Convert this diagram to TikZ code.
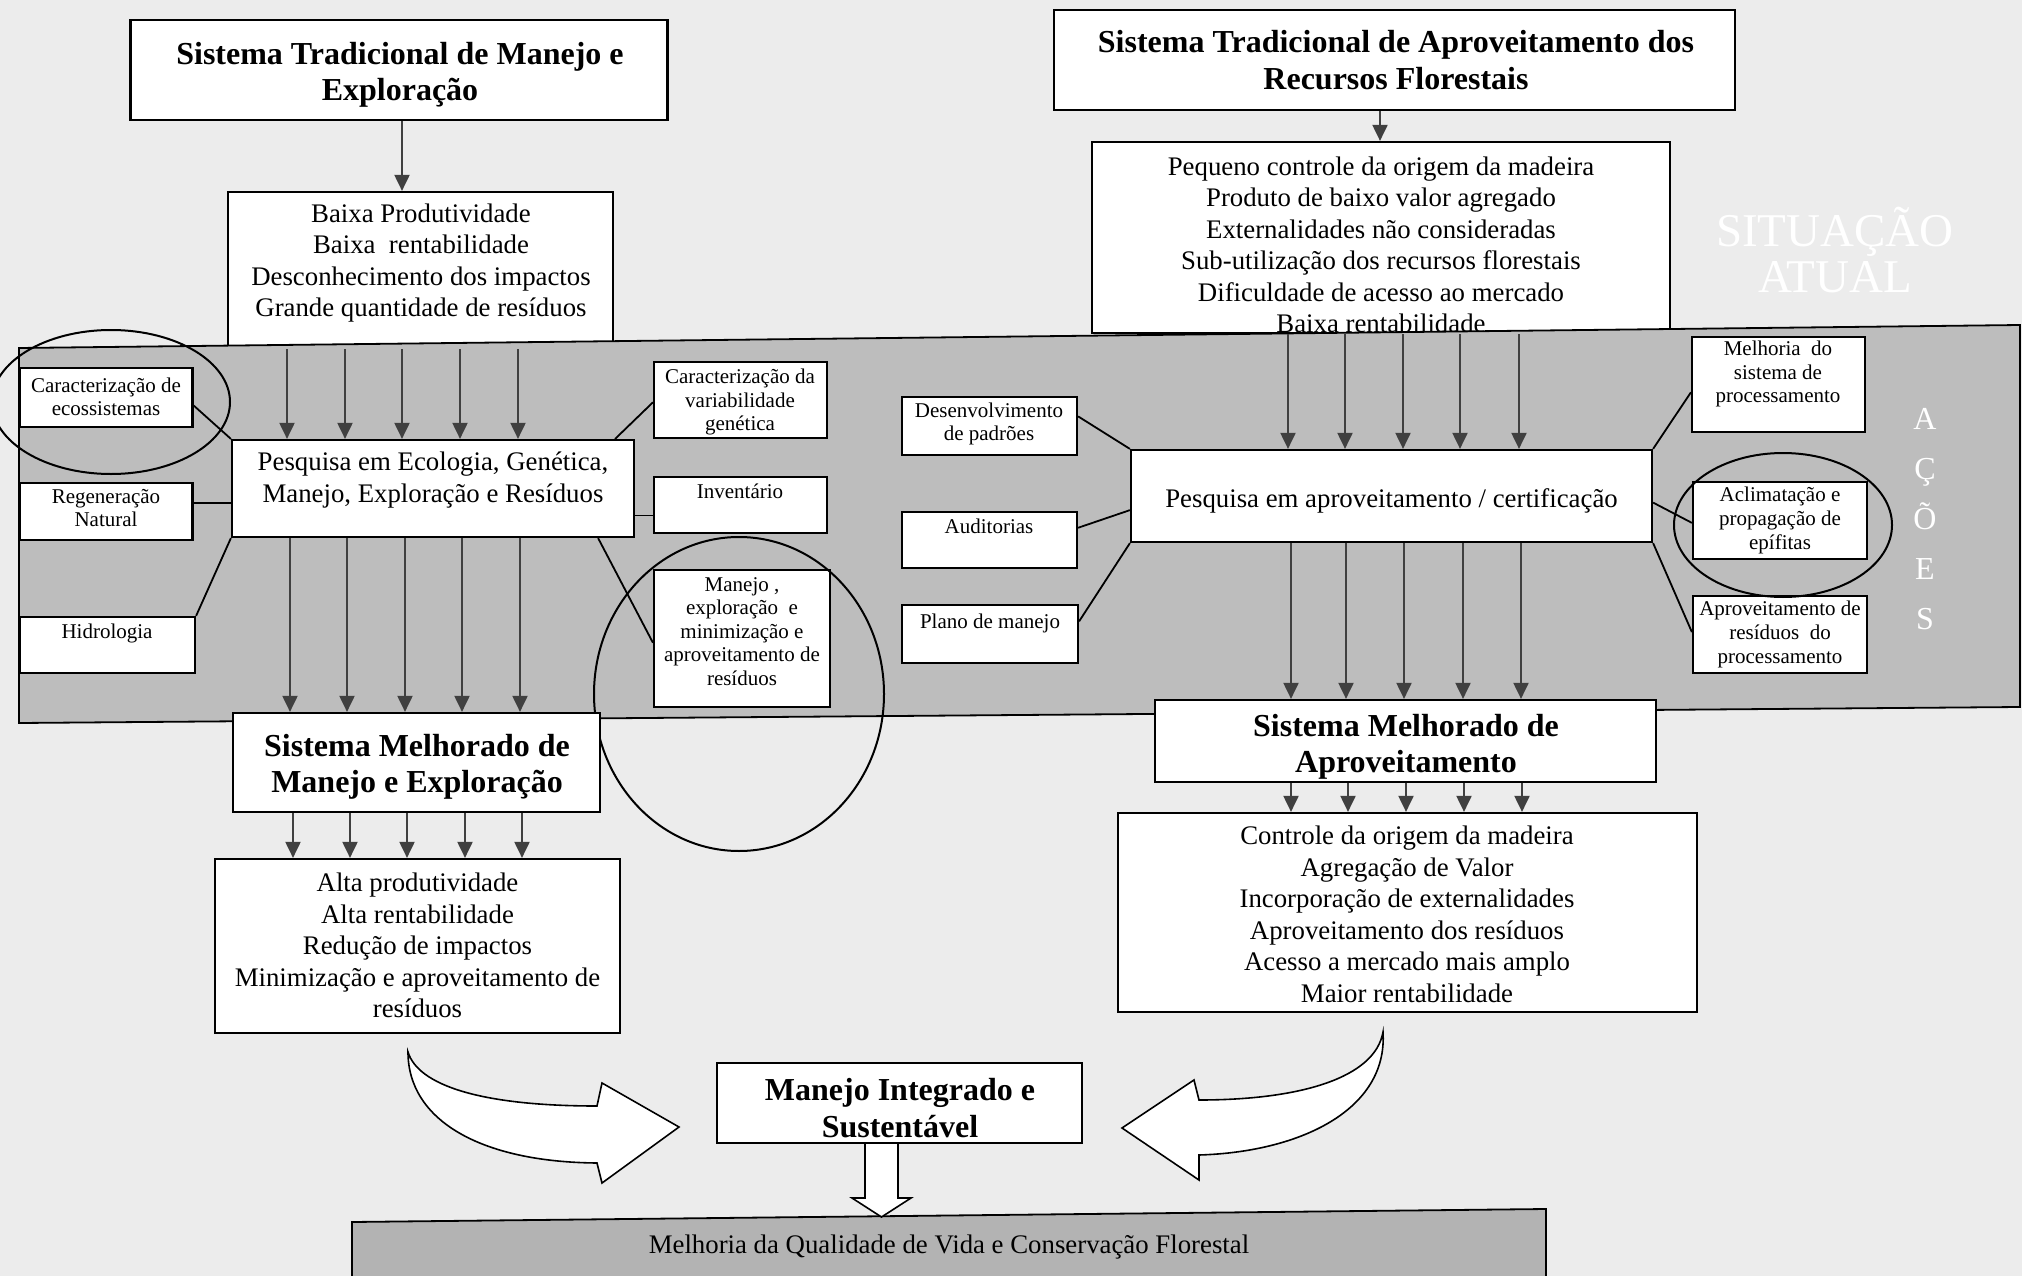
\documentclass[tikz,border=0pt]{standalone}
\usepackage{fontspec}
\setmainfont{Liberation Serif}
\usetikzlibrary{arrows.meta,calc}
\definecolor{paper}{gray}{0.925}
\definecolor{bandgrey}{gray}{0.74}
\definecolor{arrgrey}{gray}{0.25}
\begin{document}
\begin{tikzpicture}[x=1pt,y=-1pt,
  box/.style={draw=black, line width=2.2pt, fill=white, inner sep=0pt},
  txt/.style={align=center, inner sep=0pt, font=\fontsize{26.8}{31.5}\selectfont},
  stxt/.style={align=center, inner sep=0pt, font=\fontsize{21}{23.6}\selectfont},
  btxt/.style={align=center, inner sep=0pt, font=\bfseries\fontsize{32}{36.5}\selectfont},
  arr/.style={draw=arrgrey, line width=2pt, -{Triangle[width=15pt,length=16pt]}},
  link/.style={draw=black, line width=1.8pt},
  ring/.style={draw=black, line width=2pt},
  blockarr/.style={draw=black, line width=1.6pt, fill=white, line join=miter},
  ghost/.style={text=white, align=center, inner sep=0pt},
]
\useasboundingbox (0,0) rectangle (2022,1276);
\fill[paper] (0,0) rectangle (2022,1276);

% ---------- top row ----------
\node[box,minimum width=537pt,minimum height=100pt] (T1) at (399,70) {};
\node[btxt] (T1t) at (400,75) {Sistema Tradicional de Manejo e\\Exploração};
\node[box,minimum width=385pt,minimum height=156pt] (B1) at (420.5,270) {};
\node[txt] (B1t) at (421,263) {Baixa Produtividade\\Baixa~ rentabilidade\\Desconhecimento dos impactos\\Grande quantidade de resíduos};
\draw[arr] (402,0 |- T1.south) -- (402,0 |- B1.north);

\node[box,minimum width=681pt,minimum height=100pt] (T2) at (1394.5,60) {};
\node[btxt] (T2t) at (1396,60) {Sistema Tradicional de Aproveitamento dos\\Recursos Florestais};
\node[box,minimum width=578pt,minimum height=191pt] (B2) at (1381,237.5) {};
\node[txt] (B2t) at (1381,245) {Pequeno controle da origem da madeira\\Produto de baixo valor agregado\\Externalidades não consideradas\\Sub-utilização dos recursos florestais\\Dificuldade de acesso ao mercado\\Baixa rentabilidade};
\draw[arr] (1380,0 |- T2.south) -- (1380,0 |- B2.north);

\node[ghost, font=\fontsize{47}{46}\selectfont] (sit) at (1835,250) {SITUAÇÃO\\ATUAL};

% ---------- band ----------
\draw[line width=1.8pt, fill=bandgrey] (19,348) -- (2020,325) -- (2020,707) -- (19,723) -- cycle;
\node[ghost, font=\fontsize{32}{50}\selectfont] (acoes) at (1925,519) {A\\Ç\\Õ\\E\\S};

% left research block
\node[box,minimum width=402pt,minimum height=97pt] (P1) at (433,488.5) {};
\node[txt] (P1t) at (433,480) {Pesquisa em Ecologia, Genética,\\Manejo, Exploração e Resíduos};

\node[box,minimum width=173pt,minimum height=59pt] (C1) at (106,397.5) {};
\node[stxt] (C1t) at (106,397) {Caracterização de\\ecossistemas};
\node[box,minimum width=173pt,minimum height=57pt] (R1) at (106,511.5) {};
\node[stxt] (R1t) at (106,508) {Regeneração\\Natural};
\node[box,minimum width=175pt,minimum height=56pt] (H1) at (107.5,645) {};
\node[stxt] (H1t) at (107,633) {Hidrologia};

\node[box,minimum width=173pt,minimum height=76pt] (V1) at (740.5,400) {};
\node[stxt] (V1t) at (740,402) {Caracterização da\\variabilidade\\genética};
\node[box,minimum width=173pt,minimum height=56pt] (I1) at (740.5,505) {};
\node[stxt] (I1t) at (740,491) {Inventário};
\node[box,minimum width=176pt,minimum height=137pt] (M1) at (742,638.5) {};
\node[stxt] (M1t) at (742,631.5) {Manejo ,\\exploração~ e\\minimização e\\aproveitamento de\\resíduos};

\draw[ring] (111,402) ellipse [x radius=119pt, y radius=72pt];
\draw[ring] (739,694) ellipse [x radius=145pt, y radius=157pt];

\draw[link] ($(C1.north east)!0.63!(C1.south east)$) -- (P1.north west);
\coordinate (r1e) at ($(R1.north east)!0.35!(R1.south east)$);
\draw[link] (r1e) -- (r1e -| P1.west);
\draw[link] (H1.north east) -- (P1.south west);
\draw[link] ($(P1.north east)+(-20,0)$) -- ($(V1.north west)!0.53!(V1.south west)$);
\coordinate (i1w) at ($(I1.north west)!0.68!(I1.south west)$);
\draw[link] (i1w -| P1.east) -- (i1w);
\draw[link] ($(P1.south east)+(-37,0)$) -- ($(M1.north west)!0.53!(M1.south west)$);

\foreach \x in {287,345,402,460,518}
  \draw[arr] (\x,0 |- B1.south) -- (\x,0 |- P1.north);

% right research block
\node[box,minimum width=521pt,minimum height=92pt] (P2) at (1391.5,496) {};
\node[txt] (P2t) at (1391.5,501) {Pesquisa em aproveitamento / certificação};

\node[box,minimum width=175pt,minimum height=58pt] (D) at (989.5,426) {};
\node[stxt] (Dt) at (989,424) {Desenvolvimento\\de padrões};
\node[box,minimum width=175pt,minimum height=56pt] (Au) at (989.5,540) {};
\node[stxt] (Aut) at (989,526) {Auditorias};
\node[box,minimum width=176pt,minimum height=58pt] (Pl) at (990,634) {};
\node[stxt] (Plt) at (990,623) {Plano de manejo};

\node[box,minimum width=173pt,minimum height=95pt] (Me) at (1778.5,384.5) {};
\node[stxt] (Met) at (1778,374) {Melhoria~ do\\sistema de\\processamento};
\node[box,minimum width=174pt,minimum height=77pt] (Ac) at (1780,520.5) {};
\node[stxt] (Act) at (1780,520.5) {Aclimatação e\\propagação de\\epífitas};
\node[box,minimum width=174pt,minimum height=77pt] (Ap) at (1780,634.5) {};
\node[stxt] (Apt) at (1780,634.5) {Aproveitamento de\\resíduos~ do\\processamento};

\draw[ring] (1783,525) ellipse [x radius=109pt, y radius=72pt];

\draw[link] ($(D.north east)!0.34!(D.south east)$) -- (P2.north west);
\draw[link] ($(Au.north east)!0.29!(Au.south east)$) -- ($(P2.north west)!0.65!(P2.south west)$);
\draw[link] ($(Pl.north east)!0.29!(Pl.south east)$) -- (P2.south west);
\draw[link] (P2.north east) -- ($(Me.north west)!0.58!(Me.south west)$);
\draw[link] ($(P2.north east)!0.57!(P2.south east)$) -- ($(Ac.north west)!0.53!(Ac.south west)$);
\draw[link] (P2.south east) -- ($(Ap.north west)!0.47!(Ap.south west)$);

\foreach \x in {1288,1345,1403,1460,1519}
  \draw[arr] (\x,0 |- B2.south) -- (\x,0 |- P2.north);

% ---------- improved systems ----------
\node[box,minimum width=367pt,minimum height=99pt] (S1) at (416.5,762.5) {};
\node[btxt] (S1t) at (417,767) {Sistema Melhorado de\\Manejo e Exploração};
\foreach \x in {290,347,405,462,520}
  \draw[arr] (\x,0 |- P1.south) -- (\x,0 |- S1.north);

\node[box,minimum width=405pt,minimum height=174pt] (A1) at (417.5,946) {};
\node[txt] (A1t) at (417.5,945.5) {Alta produtividade\\Alta rentabilidade\\Redução de impactos\\Minimização e aproveitamento de\\resíduos};
\foreach \x in {293,350,407,465,522}
  \draw[arr] (\x,0 |- S1.south) -- (\x,0 |- A1.north);

\node[box,minimum width=501pt,minimum height=82pt] (S2) at (1405.5,741) {};
\node[btxt] (S2t) at (1406,747) {Sistema Melhorado de\\Aproveitamento};
\foreach \x in {1291,1346,1404,1463,1521}
  \draw[arr] (\x,0 |- P2.south) -- (\x,0 |- S2.north);

\node[box,minimum width=579pt,minimum height=199pt] (C2) at (1407.5,912.5) {};
\node[txt] (C2t) at (1407,914.5) {Controle da origem da madeira\\Agregação de Valor\\Incorporação de externalidades\\Aproveitamento dos resíduos\\Acesso a mercado mais amplo\\Maior rentabilidade};
\foreach \x in {1291,1348,1406,1464,1522}
  \draw[arr] (\x,0 |- S2.south) -- (\x,0 |- C2.north);

% ---------- integration ----------
\node[box,minimum width=365pt,minimum height=80pt] (MI) at (899.5,1103) {};
\node[btxt] (MIt) at (900,1108) {Manejo Integrado e\\Sustentável};

\draw[blockarr] (408,1052) .. controls (418,1085) and (480,1106) .. (597,1106)
  -- (602,1083) -- (679,1127) -- (602,1183) -- (597,1163)
  .. controls (480,1162) and (408,1120) .. (408,1052) -- cycle;
\draw[blockarr] (1383,1032) .. controls (1375,1078) and (1300,1100) .. (1199,1100)
  -- (1194,1080) -- (1122,1128) -- (1199,1180) -- (1199,1155)
  .. controls (1300,1152) and (1388,1110) .. (1383,1032) -- cycle;

\draw[line width=1.8pt, fill=bandgrey!95!black] (352,1222) -- (1546,1209) -- (1546,1285) -- (352,1285) -- cycle;
\node[txt] (QV) at (949,1247) {Melhoria da Qualidade de Vida e Conservação Florestal};

\draw[blockarr] (865,0 |- MI.south) -- (865,1198) -- (852,1198) -- (881.5,1217) -- (911,1198) -- (898,1198) -- (898,0 |- MI.south);
\end{tikzpicture}
\end{document}
